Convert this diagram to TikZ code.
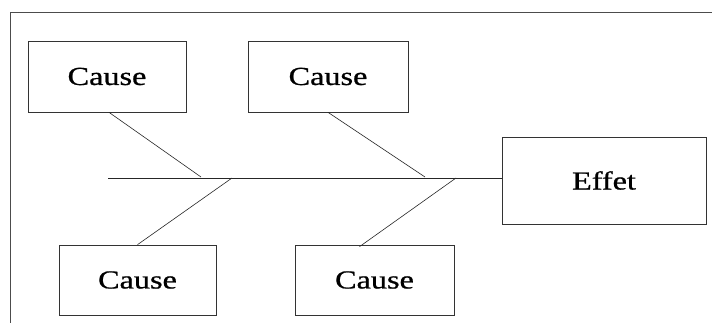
\documentclass[tikz,border=0pt]{standalone}
\usepackage{fontspec}
\setmainfont{Liberation Serif}
\newfontfamily\labfont[FakeBold=0.7]{Liberation Serif}
\usetikzlibrary{calc}
\newcommand{\lab}[1]{\scalebox{1.24}[1]{#1}}
\begin{document}
\begin{tikzpicture}[x=1pt,y=-1pt,
  box/.style={draw=black!80,line width=0.7pt,rectangle,inner sep=0pt,
    font=\labfont\fontsize{26}{26}\selectfont},
  bone/.style={draw=black!85,line width=0.6pt},
  frame/.style={draw=black!70,line width=0.6pt}]
\useasboundingbox (0,0) rectangle (712,322);
\draw[frame] (10,330) -- (10,12) -- (712,12);
\node[box,minimum width=158pt,minimum height=71pt] (tl) at (107,76.5) {\lab{Cause}};
\node[box,minimum width=160pt,minimum height=71pt] (tr) at (328,76.5) {\lab{Cause}};
\node[box,minimum width=204pt,minimum height=87pt] (eff) at (604,180.5) {\lab{Effet}};
\node[box,minimum width=157pt,minimum height=70pt] (bl) at (137.5,280) {\lab{Cause}};
\node[box,minimum width=159pt,minimum height=70pt] (br) at (374.5,280) {\lab{Cause}};
\coordinate (s0) at (108,178);
\coordinate (j1) at (201,177);
\coordinate (j2) at (232,178);
\coordinate (j3) at (425,177);
\coordinate (j4) at (456,178);
\draw[bone] (s0) -- (s0 -| eff.west);
\draw[bone] ([xshift=2pt]tl.south) -- (j1);
\draw[bone] (bl.north) -- (j2);
\draw[bone] (tr.south) -- (j3);
\draw[bone] ([xshift=-15pt,yshift=-2pt]br.north) -- (j4);
\end{tikzpicture}
\end{document}
